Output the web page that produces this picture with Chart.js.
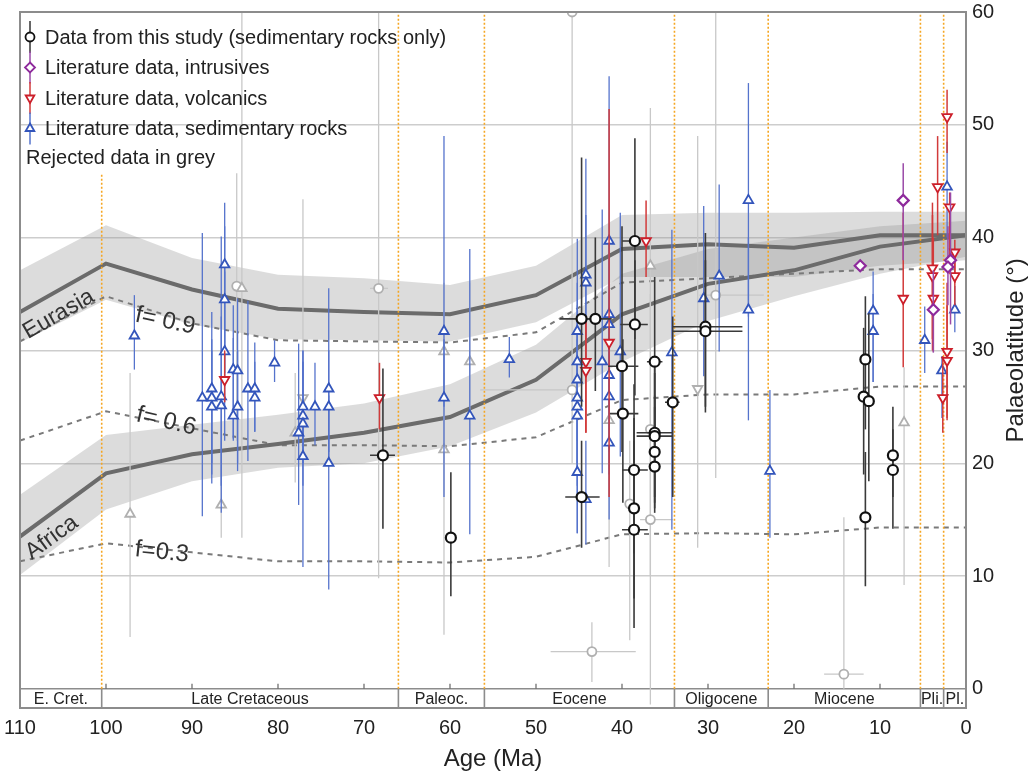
<!DOCTYPE html>
<html>
<head>
<meta charset="utf-8">
<script src="https://cdn.jsdelivr.net/npm/chart.js@4.4.0/dist/chart.umd.min.js"></script>
<style>
  body { margin: 0; background: #fff; }
  canvas { display: block; }
</style>
</head>
<body>
<canvas id="palaeoChart" width="1033" height="774"></canvas>
<script>
// model curves (age in Ma, palaeolatitude in degrees)
const curveAges = [110, 100, 90, 80, 70, 60, 50, 40, 30, 20, 10, 0];
const eurasiaLat = [33.4, 37.7, 35.4, 33.7, 33.4, 33.2, 34.9, 39.0, 39.4, 39.1, 40.2, 40.2];
const eurasiaHigh = [37.1, 41.1, 38.2, 36.7, 36.4, 35.8, 37.5, 42.0, 42.2, 42.2, 42.3, 42.3];
const eurasiaLow = [30.7, 34.5, 32.3, 31.0, 30.9, 30.8, 32.5, 36.5, 36.5, 36.5, 37.5, 38.0];
const africaLat = [13.5, 19.1, 20.8, 21.7, 22.7, 24.1, 27.4, 33.2, 35.9, 37.1, 39.2, 40.2];
const africaHigh = [17.2, 22.5, 23.4, 24.3, 25.3, 27.0, 30.5, 36.8, 39.0, 40.0, 41.0, 41.5];
const africaLow = [10.1, 15.9, 18.4, 19.6, 20.0, 21.5, 24.5, 29.0, 32.6, 34.8, 36.8, 38.3];
const f09 = [30.8, 34.8, 32.4, 30.9, 30.8, 30.7, 31.6, 36.0, 36.4, 36.8, 37.2, 37.2];
const f06 = [22.0, 24.6, 23.1, 21.6, 21.6, 21.5, 22.3, 25.6, 26.1, 26.1, 26.8, 26.8];
const f03 = [11.3, 12.9, 12.1, 11.3, 11.3, 11.2, 11.7, 13.7, 13.8, 13.7, 14.3, 14.3];

// time scale
const epochEdges = [110, 100.5, 66, 56, 33.9, 23, 5.3, 2.6, 0];
const epochNames = ['E. Cret.', 'Late Cretaceous', 'Paleoc.', 'Eocene', 'Oligocene', 'Miocene', 'Pli.', 'Pl.'];
const epochLineTop = [45.7, 60, 60, 60, 60, 60, 60];
const yTicks = [0, 10, 20, 30, 40, 50, 60];

// points: [age, lat, latLow, latHigh, ageLow, ageHigh]
const thisStudy = [
    [67.8, 20.7, 14.2, 28.4, 66.4, 69.3],
    [59.9, 13.4, 8.2, 19.2],
    [44.7, 32.8, 25.0, 47.1, 43.5, 47.2],
    [43.1, 32.8, 26.4, 40.0, 41.2, 44.5],
    [38.5, 39.7, 31.0, 48.8, 37.9, 40.0],
    [38.5, 32.3, 26.0, 38.0, 37.0, 40.2],
    [40.0, 28.6, 21.0, 41.0, 38.1, 41.6],
    [36.2, 29.0, 22.0, 36.5, 35.3, 37.1],
    [30.3, 32.1, 24.5, 40.4, 26.0, 34.1],
    [30.3, 31.7, 25.0, 38.0, 26.0, 34.1],
    [34.1, 25.4, 17.0, 33.0, 33.3, 35.0],
    [39.9, 24.4, 16.5, 31.0, 38.1, 41.4],
    [36.2, 22.7, 17.0, 29.0, 34.1, 38.3],
    [36.2, 22.4, 16.5, 28.0, 34.1, 38.3],
    [36.2, 21.0, 16.0, 26.0],
    [36.2, 19.7, 15.6, 25.0],
    [38.6, 19.4, 12.0, 27.0, 37.0, 40.0],
    [44.7, 17.0, 12.5, 22.0, 42.6, 46.6],
    [38.6, 16.0, 8.0, 24.0],
    [38.6, 14.1, 5.4, 22.0, 37.0, 40.0],
    [11.7, 29.2, 23.0, 34.8],
    [11.9, 25.9, 19.0, 32.0],
    [11.3, 25.5, 18.4, 33.3],
    [11.7, 15.2, 9.1, 21.0, 11.1, 11.7],
    [8.5, 20.7, 17.0, 25.0],
    [8.5, 19.4, 14.2, 23.0]
];

const litIntrusives = [
    [7.3, 43.3, 38.0, 46.6],
    [12.3, 37.5],
    [3.8, 33.6, 29.8, 37.1],
    [1.8, 38.0, 32.3, 44.0],
    [2.1, 37.4, 34.0, 41.0]
];

const litVolcanics = [
    [68.2, 25.8, 23.0, 28.9],
    [86.2, 27.4, 25.4, 30.0],
    [44.2, 29.0, 22.7, 33.0],
    [44.2, 28.2, 22.7, 33.0],
    [41.5, 30.7, 17.0, 51.4],
    [37.2, 39.7, 36.5, 43.3],
    [7.3, 34.6, 28.5, 42.2],
    [3.3, 44.5, 40.2, 49.0],
    [2.2, 50.7, 47.5, 53.1],
    [1.9, 42.7, 37.0, 44.0],
    [1.3, 38.7, 36.0, 39.8],
    [1.3, 36.6, 34.0, 38.0],
    [3.9, 37.3, 31.0, 43.1],
    [3.9, 36.6, 30.0, 42.0],
    [3.8, 34.6, 29.9, 40.0],
    [2.2, 29.9, 23.8, 36.0],
    [2.2, 29.1, 24.0, 34.0],
    [2.7, 25.8, 22.7, 29.5]
];

const litSediments = [
    [96.7, 31.3, 28.3, 34.9],
    [88.8, 25.8, 15.3, 40.4],
    [87.7, 26.6, 18.2, 33.4],
    [87.7, 25.8, 20.0, 31.0],
    [87.7, 25.0, 19.0, 30.0],
    [86.6, 25.9, 15.6, 40.1],
    [86.6, 25.1, 18.0, 33.0],
    [86.2, 37.6, 30.0, 43.1],
    [86.2, 34.5, 28.0, 41.0],
    [86.2, 29.9, 22.0, 37.0],
    [85.2, 28.3, 22.0, 34.0],
    [85.2, 24.2, 22.2, 31.1],
    [84.7, 28.2, 19.3, 34.6],
    [84.7, 25.0, 20.0, 30.0],
    [83.5, 26.6, 20.2, 34.4],
    [82.7, 26.6, 22.8, 30.7],
    [82.7, 25.8, 22.8, 29.0],
    [80.4, 28.9, 27.2, 30.9],
    [77.1, 25.0, 20.0, 30.0],
    [77.1, 24.2, 20.0, 29.0],
    [77.1, 23.5, 18.0, 29.0],
    [77.1, 20.6, 10.8, 30.0],
    [77.6, 22.7, 16.3, 30.6],
    [75.7, 25.0, 21.6, 28.9],
    [74.1, 26.6, 21.0, 35.5],
    [74.1, 25.0, 20.0, 30.0],
    [74.1, 20.0, 8.8, 26.0],
    [60.7, 31.7, 25.0, 49.0],
    [60.7, 25.8, 17.0, 31.0],
    [57.7, 24.2, 13.7, 39.0],
    [53.1, 29.2, 27.6, 31.2],
    [45.2, 31.7, 26.0, 39.9],
    [45.2, 29.0, 22.0, 36.0],
    [45.2, 27.4, 20.0, 34.0],
    [45.2, 25.8, 19.0, 32.0],
    [45.2, 25.0, 18.0, 31.0],
    [45.2, 24.2, 13.8, 30.0],
    [45.2, 19.2, 13.8, 25.0],
    [44.2, 36.7, 30.0, 47.0],
    [44.2, 36.0, 29.0, 42.0],
    [44.2, 16.8, 12.8, 22.0],
    [42.3, 29.0, 19.1, 42.5],
    [41.5, 39.7, 26.0, 54.3],
    [41.5, 33.2, 27.0, 40.0],
    [41.5, 32.3, 26.0, 38.0],
    [41.5, 27.8, 21.0, 34.0],
    [41.5, 25.9, 19.0, 32.0],
    [41.5, 21.8, 15.0, 28.0],
    [40.2, 29.9, 20.6, 42.2],
    [34.2, 29.8, 14.1, 40.7],
    [30.5, 34.6, 27.7, 42.8],
    [28.7, 36.6, 29.9, 44.7],
    [25.3, 43.3, 33.0, 53.7],
    [25.3, 33.6, 23.8, 40.0],
    [22.8, 19.3, 13.4, 26.5],
    [10.8, 33.5, 27.2, 37.0],
    [10.8, 31.7, 27.2, 35.0],
    [4.8, 30.9, 28.0, 33.9],
    [2.8, 28.2, 24.0, 29.5],
    [2.2, 44.5, 40.0, 48.5],
    [1.3, 33.6, 31.6, 35.7]
];

const rejectedCircles = [
    [84.8, 35.7, 22.0, 45.7],
    [68.3, 35.5, 9.8, 61.7, 67.2, 69.3],
    [45.8, 60.0],
    [45.8, 26.5, 20.0, 60.0, 45.8, 56.5],
    [29.1, 34.9, 18.7, 61.7, 23.5, 31.0],
    [43.5, 3.3, 0.6, 5.9, 38.4, 48.3],
    [14.2, 1.3, 0.0, 15.2, 11.9, 16.5],
    [36.7, 23.0, 10.0, 35.0],
    [39.1, 16.4, 4.3, 22.0],
    [36.7, 15.0, -1.4, 24.0, 34.1, 37.9]
];

const rejectedUp = [
    [84.2, 35.5, 13.4, 61.7],
    [97.2, 15.5, 4.6, 28.0],
    [86.6, 16.3, 13.4, 22.0],
    [78.0, 22.7, 18.3, 28.0],
    [60.7, 29.9, 20.0, 36.0],
    [60.7, 21.2, 4.8, 28.0],
    [57.7, 29.0, 22.0, 36.0],
    [41.5, 23.8, 10.8, 30.0],
    [36.7, 37.5, 24.0, 51.5],
    [7.2, 23.6, 9.2, 28.5]
];

const rejectedDown = [
    [77.1, 25.8, 21.0, 43.4],
    [31.2, 26.6, 12.5, 49.0]
];

const FONT = '"Liberation Sans", Arial, Helvetica, sans-serif';
const TEXT = '#222';

const toPoints = rows => rows.map(([x, y, lo, hi, xlo, xhi]) => ({ x, y, lo, hi, xlo, xhi }));
const curve = values => curveAges.map((age, i) => ({ x: age, y: values[i] }));

const epochLineData = [];
epochEdges.slice(1, -1).forEach((age, i) => {
    epochLineData.push({ x: age, y: 0 }, { x: age, y: epochLineTop[i] }, { x: age, y: null });
});

const bandFill = 'rgba(150, 150, 150, 0.33)';

function bandSet(values, fill, order) {
    return {
        type: 'line', data: curve(values), fill: fill, backgroundColor: bandFill,
        borderColor: 'rgba(0,0,0,0)', borderWidth: 0, pointRadius: 0, order: order
    };
}

function dashedSet(values) {
    return {
        type: 'line', data: curve(values), borderColor: '#7a7a7a', borderWidth: 2,
        borderDash: [5, 5], pointRadius: 0, fill: false, order: 15
    };
}

function plateSet(values) {
    return {
        type: 'line', data: curve(values), borderColor: '#6b6b6b', borderWidth: 4,
        pointRadius: 0, fill: false, order: 14
    };
}

function pointSet(rows, style, color, lineColor, lineWidth, order, extra) {
    return Object.assign({
        type: 'scatter', data: toPoints(rows), pointStyle: style,
        pointBorderColor: color, pointBackgroundColor: '#fff', pointBorderWidth: 1.8,
        pointRadius: 5.5, pointHoverRadius: 5.5, errorColor: lineColor, errorWidth: lineWidth,
        order: order
    }, extra || {});
}

// draws the latitude / age uncertainty bars right under each point set
const errorBarPlugin = {
    id: 'errorBars',
    beforeDatasetDraw(chart, args) {
        const ds = chart.data.datasets[args.index];
        if (!ds.errorColor) return;
        const { ctx, chartArea, scales: { x, y } } = chart;
        ctx.save();
        ctx.beginPath();
        ctx.rect(chartArea.left, chartArea.top, chartArea.right - chartArea.left, chartArea.bottom - chartArea.top);
        ctx.clip();
        ctx.strokeStyle = ds.errorColor;
        ctx.lineWidth = ds.errorWidth;
        ds.data.forEach(p => {
            const px = x.getPixelForValue(p.x);
            const py = y.getPixelForValue(p.y);
            ctx.beginPath();
            if (p.lo !== undefined) {
                ctx.moveTo(px, y.getPixelForValue(p.lo));
                ctx.lineTo(px, y.getPixelForValue(p.hi));
            }
            if (p.xlo !== undefined) {
                ctx.moveTo(x.getPixelForValue(p.xlo), py);
                ctx.lineTo(x.getPixelForValue(p.xhi), py);
            }
            ctx.stroke();
        });
        ctx.restore();
    }
};

const epochBandPlugin = {
    id: 'epochBand',
    beforeDatasetsDraw(chart) {
        const { ctx, chartArea, scales: { x, y } } = chart;
        const y0 = y.getPixelForValue(0);
        const bottom = chartArea.bottom;
        ctx.save();
        ctx.fillStyle = '#fff';
        ctx.fillRect(chartArea.left, y0, chartArea.right - chartArea.left, bottom - y0);
        ctx.strokeStyle = '#8c8c8c';
        ctx.lineWidth = 1.6;
        ctx.beginPath();
        ctx.moveTo(chartArea.left, y0);
        ctx.lineTo(chartArea.right, y0);
        epochEdges.slice(1, -1).forEach(age => {
            const px = x.getPixelForValue(age);
            ctx.moveTo(px, y0);
            ctx.lineTo(px, bottom);
        });
        ctx.stroke();

        ctx.strokeStyle = '#666';
        ctx.lineWidth = 1.2;
        ctx.beginPath();
        for (let age = 10; age <= 100; age += 10) {
            const px = x.getPixelForValue(age);
            ctx.moveTo(px, y0);
            ctx.lineTo(px, y0 - 5);
        }
        ctx.stroke();

        ctx.fillStyle = TEXT;
        ctx.font = '16px ' + FONT;
        ctx.textAlign = 'center';
        ctx.textBaseline = 'middle';
        epochNames.forEach((name, i) => {
            const mid = (x.getPixelForValue(epochEdges[i]) + x.getPixelForValue(epochEdges[i + 1])) / 2;
            ctx.fillText(name, mid, (y0 + bottom) / 2 + 1);
        });
        ctx.restore();
    }
};

function drawMarker(ctx, style, cx, cy, r, rot) {
    ctx.beginPath();
    if (style === 'circle') {
        ctx.arc(cx, cy, r, 0, Math.PI * 2);
    } else if (style === 'triangle') {
        const s = rot ? -1 : 1;
        ctx.moveTo(cx, cy - s * r);
        ctx.lineTo(cx + r * 0.866, cy + s * r * 0.5);
        ctx.lineTo(cx - r * 0.866, cy + s * r * 0.5);
        ctx.closePath();
    } else {
        ctx.moveTo(cx, cy - r);
        ctx.lineTo(cx + r, cy);
        ctx.lineTo(cx, cy + r);
        ctx.lineTo(cx - r, cy);
        ctx.closePath();
    }
    ctx.fill();
    ctx.stroke();
}

const legendItems = [
    { text: 'Data from this study (sedimentary rocks only)', style: 'circle', color: '#111', line: '#333', r: 4.5 },
    { text: 'Literature data, intrusives', style: 'rectRot', color: '#8e2a9c', line: '#9a4aa8', r: 5 },
    { text: 'Literature data, volcanics', style: 'triangle', rot: true, color: '#cc1f2a', line: '#d23a3a', r: 5 },
    { text: 'Literature data, sedimentary rocks', style: 'triangle', color: '#3355bb', line: '#5573cc', r: 5 }
];

const overlayPlugin = {
    id: 'overlay',
    afterDraw(chart) {
        const { ctx, chartArea, scales: { x, y } } = chart;
        ctx.save();

        // curve names
        const labels = [
            { text: 'Eurasia', age: 105.5, lat: 33.2, angle: -30, size: 23 },
            { text: 'Africa', age: 106.3, lat: 13.4, angle: -36, size: 23 },
            { text: 'f= 0.9', age: 93.1, lat: 32.6, angle: 12, size: 24 },
            { text: 'f= 0.6', age: 93.0, lat: 23.7, angle: 13, size: 24 },
            { text: 'f=0.3', age: 93.5, lat: 12.1, angle: 6, size: 24 }
        ];
        ctx.fillStyle = '#333';
        ctx.textAlign = 'center';
        ctx.textBaseline = 'middle';
        labels.forEach(l => {
            ctx.save();
            ctx.translate(x.getPixelForValue(l.age), y.getPixelForValue(l.lat));
            ctx.rotate(l.angle * Math.PI / 180);
            ctx.font = l.size + 'px ' + FONT;
            ctx.fillText(l.text, 0, 0);
            ctx.restore();
        });

        // legend
        ctx.font = '20px ' + FONT;
        ctx.textAlign = 'left';
        legendItems.forEach((item, i) => {
            const cy = chartArea.top + 25 + i * 30.5;
            const cx = chartArea.left + 10;
            ctx.strokeStyle = item.line;
            ctx.lineWidth = 1.5;
            ctx.beginPath();
            ctx.moveTo(cx, cy - 16);
            ctx.lineTo(cx, cy + 16);
            ctx.stroke();
            ctx.strokeStyle = item.color;
            ctx.fillStyle = '#fff';
            ctx.lineWidth = 1.8;
            drawMarker(ctx, item.style, cx, cy, item.r, item.rot);
            ctx.fillStyle = TEXT;
            ctx.fillText(item.text, chartArea.left + 25, cy + 1);
        });
        ctx.fillStyle = TEXT;
        ctx.fillText('Rejected data in grey', chartArea.left + 6, chartArea.top + 146);

        // frame
        ctx.strokeStyle = '#8c8c8c';
        ctx.lineWidth = 2;
        ctx.strokeRect(chartArea.left, chartArea.top, chartArea.right - chartArea.left, chartArea.bottom - chartArea.top);

        // right axis title, reading upwards
        ctx.translate(chartArea.right + 50, (y.getPixelForValue(0) + y.getPixelForValue(60)) / 2);
        ctx.rotate(-Math.PI / 2);
        ctx.font = '24px ' + FONT;
        ctx.textAlign = 'center';
        ctx.textBaseline = 'middle';
        ctx.fillStyle = TEXT;
        ctx.fillText('Palaeolatitude (°)', 0, 0);
        ctx.restore();
    }
};

const grey = '#b0b0b0';
const greyLine = '#c8c8c8';

const ctx = document.getElementById('palaeoChart').getContext('2d');
const palaeoChart = new Chart(ctx, {
    type: 'scatter',
    data: {
        datasets: [
            bandSet(eurasiaHigh, '+1', 20),
            bandSet(eurasiaLow, false, 20),
            bandSet(africaHigh, '+1', 19),
            bandSet(africaLow, false, 19),
            dashedSet(f09),
            dashedSet(f06),
            dashedSet(f03),
            plateSet(eurasiaLat),
            plateSet(africaLat),
            {
                type: 'line', data: epochLineData, borderColor: '#f5a623', borderWidth: 1.6,
                borderDash: [2, 2], pointRadius: 0, fill: false, spanGaps: false, order: 13
            },
            pointSet(rejectedCircles, 'circle', grey, greyLine, 1.3, 12, { pointRadius: 4.5 }),
            pointSet(rejectedUp, 'triangle', grey, greyLine, 1.3, 11),
            pointSet(rejectedDown, 'triangle', grey, greyLine, 1.3, 11, { pointRotation: 180 }),
            pointSet(litSediments, 'triangle', '#3355bb', '#5573cc', 1.3, 8),
            pointSet(litVolcanics, 'triangle', '#cc1f2a', '#d23a3a', 1.5, 7, { pointRotation: 180 }),
            pointSet(litIntrusives, 'rectRot', '#8e2a9c', '#9a4aa8', 1.5, 6, { pointBorderWidth: 2.2 }),
            pointSet(thisStudy, 'circle', '#111', '#3a3a3a', 1.6, 5, { pointRadius: 5, pointBorderWidth: 2.2 })
        ]
    },
    options: {
        responsive: false,
        animation: false,
        layout: { padding: { left: 20, top: 12, right: 0, bottom: 0 } },
        plugins: {
            legend: { display: false },
            tooltip: { enabled: false }
        },
        scales: {
            x: {
                type: 'linear',
                reverse: true,
                min: 0,
                max: 110,
                ticks: { stepSize: 10, padding: 8, color: TEXT, font: { size: 20, family: FONT } },
                grid: { display: false, drawTicks: false },
                border: { display: false },
                title: {
                    display: true, text: 'Age (Ma)', color: TEXT,
                    font: { size: 24, family: FONT }, padding: { top: 0, bottom: 0 }
                },
                afterFit(scale) {
                    scale.height = 66;
                    scale.paddingLeft = 0;
                    scale.paddingRight = 0;
                }
            },
            y: {
                type: 'linear',
                position: 'right',
                min: -1.7,
                max: 60,
                afterBuildTicks(scale) { scale.ticks = yTicks.map(v => ({ value: v })); },
                ticks: { padding: 6, color: TEXT, font: { size: 20, family: FONT } },
                grid: {
                    color: c => (c.tick && (c.tick.value === 0 || c.tick.value === 60)) ? 'rgba(0,0,0,0)' : '#cdcdcd',
                    lineWidth: 1.4,
                    drawTicks: false
                },
                border: { display: false },
                afterFit(scale) {
                    scale.width = 67;
                    scale.paddingTop = 0;
                    scale.paddingBottom = 0;
                }
            }
        }
    },
    plugins: [epochBandPlugin, errorBarPlugin, overlayPlugin]
});
</script>
</body>
</html>
